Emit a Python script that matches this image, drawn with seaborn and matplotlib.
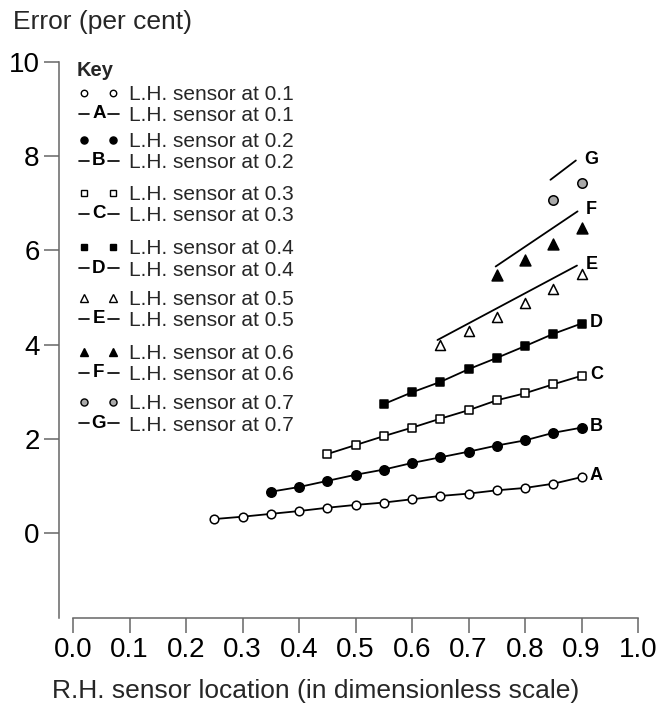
import numpy as np
import pandas as pd
import matplotlib
matplotlib.use("Agg")
import matplotlib.pyplot as plt
import seaborn as sns
from matplotlib.lines import Line2D
from matplotlib.text import Text
from matplotlib.legend_handler import HandlerBase, HandlerLine2D

# ---------------- data ----------------
x_A = [0.25, 0.30, 0.35, 0.40, 0.45, 0.50, 0.55, 0.60, 0.65, 0.70, 0.75, 0.80, 0.85, 0.90]
err_A = [0.30, 0.35, 0.41, 0.47, 0.54, 0.60, 0.65, 0.72, 0.79, 0.84, 0.91, 0.96, 1.05, 1.19]
x_B = [0.35, 0.40, 0.45, 0.50, 0.55, 0.60, 0.65, 0.70, 0.75, 0.80, 0.85, 0.90]
err_B = [0.88, 0.98, 1.11, 1.24, 1.35, 1.49, 1.61, 1.73, 1.86, 1.97, 2.13, 2.24]
x_C = [0.45, 0.50, 0.55, 0.60, 0.65, 0.70, 0.75, 0.80, 0.85, 0.90]
err_C = [1.68, 1.87, 2.06, 2.24, 2.43, 2.61, 2.82, 2.97, 3.16, 3.34]
x_D = [0.55, 0.60, 0.65, 0.70, 0.75, 0.80, 0.85, 0.90]
err_D = [2.74, 2.99, 3.21, 3.48, 3.72, 3.97, 4.23, 4.45]
x_E = [0.65, 0.70, 0.75, 0.80, 0.85, 0.90]
err_E = [4.00, 4.29, 4.59, 4.89, 5.19, 5.50]
x_F = [0.75, 0.80, 0.85, 0.90]
err_F = [5.47, 5.80, 6.14, 6.48]
x_G = [0.85, 0.90]
err_G = [7.07, 7.44]

# line series (A-D pass through points, E-G are separate straight lines)
line_x_A, line_A = x_A, err_A
line_x_B, line_B = x_B, err_B
line_x_C, line_C = x_C, err_C
line_x_D, line_D = x_D, err_D
line_x_E = [0.645, 0.892]
line_E = [4.10, 5.68]
line_x_F = [0.748, 0.893]
line_F = [5.66, 6.83]
line_x_G = [0.845, 0.890]
line_G = [7.50, 7.91]

letters = ["A", "B", "C", "D", "E", "F", "G"]
lh_sensor = ["0.1", "0.2", "0.3", "0.4", "0.5", "0.6", "0.7"]
x_ticks = [0.0, 0.1, 0.2, 0.3, 0.4, 0.5, 0.6, 0.7, 0.8, 0.9, 1.0]
x_ticklabels = ["0.0", "0.1", "0.2", "0.3", "0.4", "0.5", "0.6", "0.7", "0.8", "0.9", "1.0"]
y_ticks = [0, 2, 4, 6, 8, 10]
y_ticklabels = ["0", "2", "4", "6", "8", "10"]

# ---------------- styles ----------------
marker_styles = [
    dict(marker="o", fc="white", ms=6.2),
    dict(marker="o", fc="black", ms=6.8),
    dict(marker="s", fc="white", ms=5.4),
    dict(marker="s", fc="black", ms=5.6),
    dict(marker="^", fc="white", ms=7.2),
    dict(marker="^", fc="black", ms=7.8),
    dict(marker="o", fc="#a9a9a9", ms=6.8),
]
# vertical centres (in pixels from top) of each key group
key_group_px = [105, 152, 205, 259.5, 310, 364, 414.5]

sns.set_theme(style="ticks")
plt.rcParams["font.family"] = ["Liberation Sans", "DejaVu Sans"]

fig = plt.figure(figsize=(6.61, 7.07), dpi=100)
ax = fig.add_axes([59 / 661, 89 / 707, 579 / 661, 556 / 707])

pts = [(x_A, err_A), (x_B, err_B), (x_C, err_C), (x_D, err_D),
       (x_E, err_E), (x_F, err_F), (x_G, err_G)]
lines = [(line_x_A, line_A), (line_x_B, line_B), (line_x_C, line_C),
         (line_x_D, line_D), (line_x_E, line_E), (line_x_F, line_F),
         (line_x_G, line_G)]

for i, ((lx, ly), (px, py)) in enumerate(zip(lines, pts)):
    dfl = pd.DataFrame({"x": lx, "err": ly})
    sns.lineplot(data=dfl, x="x", y="err", ax=ax, color="black", lw=1.3,
                 errorbar=None, sort=False, zorder=2)
    st = marker_styles[i]
    dfp = pd.DataFrame({"x": px, "err": py})
    sns.scatterplot(data=dfp, x="x", y="err", ax=ax, marker=st["marker"],
                    s=st["ms"] ** 2, color=st["fc"], edgecolor="black",
                    linewidth=1.1, zorder=3)
    ax.annotate(letters[i], xy=(lx[-1], ly[-1]), xytext=(6, 1),
                textcoords="offset points", ha="left", va="center",
                fontsize=13, fontweight="bold", color="black")

ax.set_xlim(-0.025, 1.0)
ax.set_ylim(-1.8, 10)
ax.set_xticks(x_ticks)
ax.set_xticklabels(x_ticklabels)
ax.set_yticks(y_ticks)
ax.set_yticklabels(y_ticklabels)
ax.tick_params(axis="both", length=10.5, width=1.1, color="#666666",
               labelsize=20, labelcolor="black", pad=3.5)
for s in ["top", "right"]:
    ax.spines[s].set_visible(False)
for s in ["left", "bottom"]:
    ax.spines[s].set_color("#666666")
    ax.spines[s].set_linewidth(1.1)
ax.spines["bottom"].set_bounds(0, 1)
ax.spines["left"].set_bounds(-1.8, 10)

ax.set_xlabel("R.H. sensor location (in dimensionless scale)", fontsize=19,
              ha="left", va="center")
ax.xaxis.set_label_coords(-0.012, -0.132)
ax.set_ylabel("Error (per cent)", fontsize=19, rotation=0, ha="left", va="center")
ax.yaxis.set_label_coords(-0.080, 1.072)


# ---------------- key ----------------
class LetterHandler(HandlerBase):
    def __init__(self, letter):
        super().__init__()
        self.letter = letter

    def create_artists(self, legend, orig_handle, xdescent, ydescent, width,
                       height, fontsize, trans):
        y = height / 2 - ydescent
        x0 = -xdescent
        l1 = Line2D([x0 + 0.02 * width, x0 + 0.27 * width], [y, y], color="black", lw=1.2)
        l2 = Line2D([x0 + 0.73 * width, x0 + 0.98 * width], [y, y], color="black", lw=1.2)
        t = Text(x0 + 0.5 * width, y, self.letter, ha="center", va="center",
                 fontsize=13.5, fontweight="bold", color="black")
        for a in (l1, l2, t):
            a.set_transform(trans)
        return [l1, l2, t]


fig.text(77 / 661, 1 - 71 / 707, "Key", fontsize=14.5, fontweight="bold",
         ha="left", va="center")

legend_fs = 15
for i in range(7):
    st = marker_styles[i]
    mh = Line2D([], [], ls="none", marker=st["marker"], mfc=st["fc"],
                mec="black", mew=1.0, ms=st["ms"] * 0.75)
    lh = Line2D([], [], color="black")
    leg = ax.legend(handles=[mh, lh],
                    labels=[f"L.H. sensor at {lh_sensor[i]}"] * 2,
                    loc="center left",
                    bbox_to_anchor=(78 / 661, 1 - key_group_px[i] / 707),
                    bbox_transform=fig.transFigure, frameon=False,
                    numpoints=2, fontsize=legend_fs, handlelength=2.0,
                    handletextpad=0.45, labelspacing=0.1, borderpad=0,
                    borderaxespad=0,
                    handler_map={mh: HandlerLine2D(numpoints=2),
                                 lh: LetterHandler(letters[i])})
    if i < 6:
        ax.add_artist(leg)

fig.savefig("out.png", dpi=100)
